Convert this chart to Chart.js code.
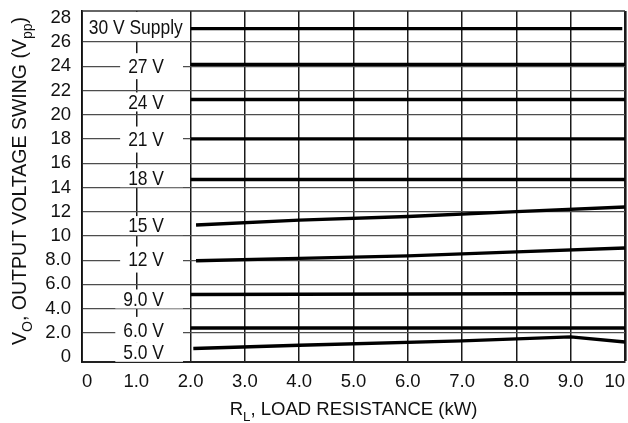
<!DOCTYPE html>
<html>
<head>
<meta charset="utf-8">
<script src="https://cdn.jsdelivr.net/npm/chart.js@4.4.1/dist/chart.umd.min.js"></script>
<style>
    html, body { margin: 0; padding: 0; background: #fff; }
</style>
</head>
<body>
<canvas id="swing-chart" width="628" height="423"></canvas>
<script>
// --- DATA ---
const supplyNames = ['30 V Supply', '27 V', '24 V', '21 V', '18 V', '15 V', '12 V', '9.0 V', '6.0 V', '5.0 V'];

// R_L (kW) and V_O (Vpp) for each supply curve
const rl30 = [2.0, 9.95];              const vo30 = [27.1, 27.1];
const rl27 = [2.0, 10];                const vo27 = [24.15, 24.15];
const rl24 = [2.0, 10];                const vo24 = [21.25, 21.25];
const rl21 = [2.0, 10];                const vo21 = [18.0, 18.0];
const rl18 = [2.0, 10];                const vo18 = [14.65, 14.65];
const rl15 = [2.1, 4, 6, 8, 10];       const vo15 = [10.9, 11.3, 11.6, 12.0, 12.38];
const rl12 = [2.1, 4, 6, 8, 10];       const vo12 = [7.95, 8.15, 8.35, 8.68, 9.0];
const rl9 = [2.0, 10];                 const vo9 = [5.17, 5.25];
const rl6 = [2.0, 10];                 const vo6 = [2.41, 2.41];
const rl5 = [2.05, 4, 7, 9, 10];       const vo5 = [0.71, 0.98, 1.34, 1.67, 1.25];

const curveR = [rl30, rl27, rl24, rl21, rl18, rl15, rl12, rl9, rl6, rl5];
const curveV = [vo30, vo27, vo24, vo21, vo18, vo15, vo12, vo9, vo6, vo5];

const xTickValues = [0, 1, 2, 3, 4, 5, 6, 7, 8, 9, 10];
const xTickLabels = ['0', '1.0', '2.0', '3.0', '4.0', '5.0', '6.0', '7.0', '8.0', '9.0', '10'];
const yTickValues = [0, 2, 4, 6, 8, 10, 12, 14, 16, 18, 20, 22, 24, 26, 28];
const yTickLabels = ['0', '2.0', '4.0', '6.0', '8.0', '10', '12', '14', '16', '18', '20', '22', '24', '26', '28'];

const xTitleParts = [{ t: 'R' }, { t: 'L', sub: true }, { t: ', LOAD RESISTANCE (kW)' }];
const yTitleParts = [{ t: 'V' }, { t: 'O', sub: true }, { t: ', OUTPUT VOLTAGE SWING (V' }, { t: 'pp', sub: true }, { t: ')' }];

// --- LAYOUT ---
const FONT = "'Liberation Sans', Arial, sans-serif";
const LABEL_Y = [27.2, 24.0, 21.05, 17.95, 14.8, 10.85, 8.05, 4.8, 2.25, 0.4]; // label centres, axis units
const LABEL_RIGHT = 1.51;   // labels are right aligned here
const LABEL_BOX_END = 1.86;
const SUPPLY_LABEL_X = 0.99;
const NARROWING = 0.83;     // the labels use a condensed face

function drawRichText(ctx, parts, x, y, size) {
    const widths = parts.map(p => {
        ctx.font = `${p.sub ? size * 0.72 : size}px ${FONT}`;
        return ctx.measureText(p.t).width;
    });
    let cx = x - widths.reduce((a, b) => a + b, 0) / 2;
    parts.forEach((p, i) => {
        ctx.font = `${p.sub ? size * 0.72 : size}px ${FONT}`;
        ctx.fillText(p.t, cx, p.sub ? y + size * 0.3 : y);
        cx += widths[i];
    });
}

function drawNarrow(ctx, text, x, y, align) {
    ctx.save();
    ctx.translate(x, y);
    ctx.scale(NARROWING, 1);
    ctx.textAlign = align;
    ctx.fillText(text, 0, 0);
    ctx.restore();
}

const labelPlugin = {
    id: 'supplyLabels',
    beforeDatasetsDraw(chart) {
        const { ctx, chartArea: a, scales: { x, y } } = chart;
        ctx.save();
        ctx.strokeStyle = '#333';
        ctx.lineWidth = 1.6;
        ctx.beginPath();
        ctx.moveTo(a.left, a.top);
        ctx.lineTo(a.right, a.top);
        ctx.stroke();

        ctx.font = `21px ${FONT}`;
        ctx.textBaseline = 'middle';
        supplyNames.forEach((name, i) => {
            const cy = y.getPixelForValue(LABEL_Y[i]);
            if (i === 0) {
                const x0 = a.left + 1.2, x1 = x.getPixelForValue(2) - 1;
                const y0 = a.top + 1, y1 = y.getPixelForValue(26) - 1;
                ctx.fillStyle = '#fff';
                ctx.fillRect(x0, y0, x1 - x0, y1 - y0);
                ctx.fillStyle = '#111';
                drawNarrow(ctx, name, x.getPixelForValue(SUPPLY_LABEL_X), cy + 1, 'center');
                return;
            }
            // labels sitting on a grid line get a taller box
            const onGrid = Math.abs(LABEL_Y[i] - Math.round(LABEL_Y[i] / 2) * 2) < 0.3;
            const half = onGrid ? 13 : 9.5;
            const right = x.getPixelForValue(LABEL_RIGHT);
            const w = ctx.measureText(name).width * NARROWING;
            const bx0 = Math.max(right - w - 8, a.left + 1.2);
            const bx1 = x.getPixelForValue(LABEL_BOX_END);
            ctx.fillStyle = '#fff';
            ctx.fillRect(bx0, cy - half, bx1 - bx0, half * 2);
            ctx.fillStyle = '#111';
            drawNarrow(ctx, name, right, cy + 1, 'right');
        });
        ctx.restore();
    },
    afterDraw(chart) {
        const { ctx, chartArea: a } = chart;
        ctx.save();
        ctx.fillStyle = '#111';
        ctx.textAlign = 'left';
        ctx.textBaseline = 'alphabetic';
        drawRichText(ctx, xTitleParts, (a.left + a.right) / 2, 415, 18.5);
        ctx.translate(26, 181);
        ctx.rotate(-Math.PI / 2);
        drawRichText(ctx, yTitleParts, 0, 0, 19.5);
        ctx.restore();
    }
};

const datasets = curveR.map((xs, i) => ({
    label: supplyNames[i],
    data: xs.map((r, j) => ({ x: r, y: curveV[i][j] })),
    borderColor: '#000',
    borderWidth: 3.4,
    borderCapStyle: 'butt',
    pointRadius: 0,
    tension: 0,
    fill: false
}));

new Chart(document.getElementById('swing-chart'), {
    type: 'line',
    data: { datasets },
    plugins: [labelPlugin],
    options: {
        responsive: false,
        animation: false,
        layout: { padding: { top: 11, right: 3, left: 0, bottom: 0 } },
        plugins: { legend: { display: false }, tooltip: { enabled: false } },
        scales: {
            x: {
                type: 'linear',
                min: 0,
                max: 10,
                afterBuildTicks: s => { s.ticks = xTickValues.map(v => ({ value: v })); },
                afterFit: s => { s.height = 61; s.paddingLeft = 0; s.paddingRight = 0; },
                ticks: {
                    callback: (v, i) => xTickLabels[i],
                    color: '#111',
                    font: { family: FONT, size: 18.5 },
                    padding: 9,
                    align: 'inner',
                    maxRotation: 0,
                    autoSkip: false
                },
                grid: { color: '#1a1a1a', lineWidth: c => c.index === 10 ? 2.6 : 1.5, drawTicks: false },
                border: { color: '#222', width: 2 }
            },
            y: {
                type: 'linear',
                min: -0.4,
                max: 28.55,
                afterBuildTicks: s => { s.ticks = yTickValues.map(v => ({ value: v })); },
                afterFit: s => { s.width = 82; s.paddingTop = 0; s.paddingBottom = 0; },
                ticks: {
                    callback: (v, i) => yTickLabels[i],
                    color: '#111',
                    font: { family: FONT, size: 18.5 },
                    padding: 11,
                    autoSkip: false
                },
                grid: {
                    color: c => (c.tick && (c.tick.value === 0 || c.tick.value === 28)) ? 'rgba(0,0,0,0)' : '#4d4d4d',
                    lineWidth: 1.2,
                    drawTicks: false
                },
                border: { color: '#111', width: 1.8 }
            }
        }
    }
});
</script>
</body>
</html>
